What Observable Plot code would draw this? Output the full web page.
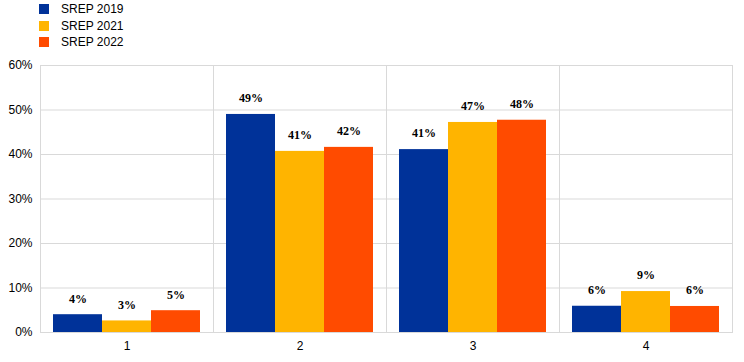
<!DOCTYPE html>
<html>
<head>
<meta charset="utf-8">
<script src="https://cdn.jsdelivr.net/npm/d3@7"></script>
<script src="https://cdn.jsdelivr.net/npm/@observablehq/plot@0.6"></script>
<style>
  body { margin: 0; background: #fff; }
  #wrap { position: relative; width: 744px; height: 362px; font-family: "Liberation Sans", Arial, sans-serif; }
  #legend { position: absolute; left: 39px; top: 4px; font-size: 12px; color: #000; }
  .item { display: flex; align-items: center; height: 10px; margin-bottom: 6.7px; }
  .sw { width: 10px; height: 10px; margin-right: 12px; }
  #chart { position: absolute; left: 0; top: 0; }
</style>
</head>
<body>
<div id="wrap">
  <div id="chart"></div>
  <div id="legend"></div>
</div>
<script>
const groups = ["1", "2", "3", "4"];
const series = ["SREP 2019", "SREP 2021", "SREP 2022"];
const colors = ["#003299", "#FFB400", "#FF4B00"];
const srep2019 = [4.0, 49.0, 41.1, 5.9];
const srep2021 = [2.6, 40.7, 47.2, 9.2];
const srep2022 = [4.9, 41.6, 47.7, 5.85];
const yTicks = [0, 10, 20, 30, 40, 50, 60];

const valuesBySeries = [srep2019, srep2021, srep2022];
const data = [];
groups.forEach((g, gi) => {
  series.forEach((s, si) => {
    data.push({group: g, series: s, value: valuesBySeries[si][gi]});
  });
});

const chart = Plot.plot({
  width: 744,
  height: 362,
  marginTop: 65,
  marginBottom: 30,
  marginLeft: 39,
  marginRight: 12,
  style: {fontFamily: "'Liberation Sans', Arial, sans-serif", fontSize: "12px", color: "#000", background: "#fff"},
  fx: {domain: groups, padding: 0, axis: "bottom", label: null, tickSize: 0, tickPadding: 9},
  x: {domain: series, paddingInner: 0, paddingOuter: 0.25, axis: null},
  y: {domain: [0, 60], ticks: yTicks, tickFormat: d => d + "%", label: null, tickSize: 0, tickPadding: 8},
  color: {domain: series, range: colors},
  marks: [
    Plot.gridY(yTicks, {stroke: "#d9d9d9", strokeOpacity: 1}),
    Plot.frame({stroke: "#d9d9d9", strokeWidth: 1}),
    Plot.barY(data, {fx: "group", x: "series", y: "value", fill: "series"}),
    Plot.text(data, {fx: "group", x: "series", y: "value", text: d => Math.round(d.value) + "%",
      dy: -16, fontWeight: "bold", fontFamily: "'Liberation Serif', 'Times New Roman', serif", fontSize: 12, fill: "#000"})
  ]
});
document.getElementById("chart").appendChild(chart);

const legend = document.getElementById("legend");
series.forEach((s, i) => {
  const row = document.createElement("div");
  row.className = "item";
  const sw = document.createElement("div");
  sw.className = "sw";
  sw.style.background = colors[i];
  const t = document.createElement("span");
  t.textContent = s;
  row.appendChild(sw);
  row.appendChild(t);
  legend.appendChild(row);
});
</script>
</body>
</html>
